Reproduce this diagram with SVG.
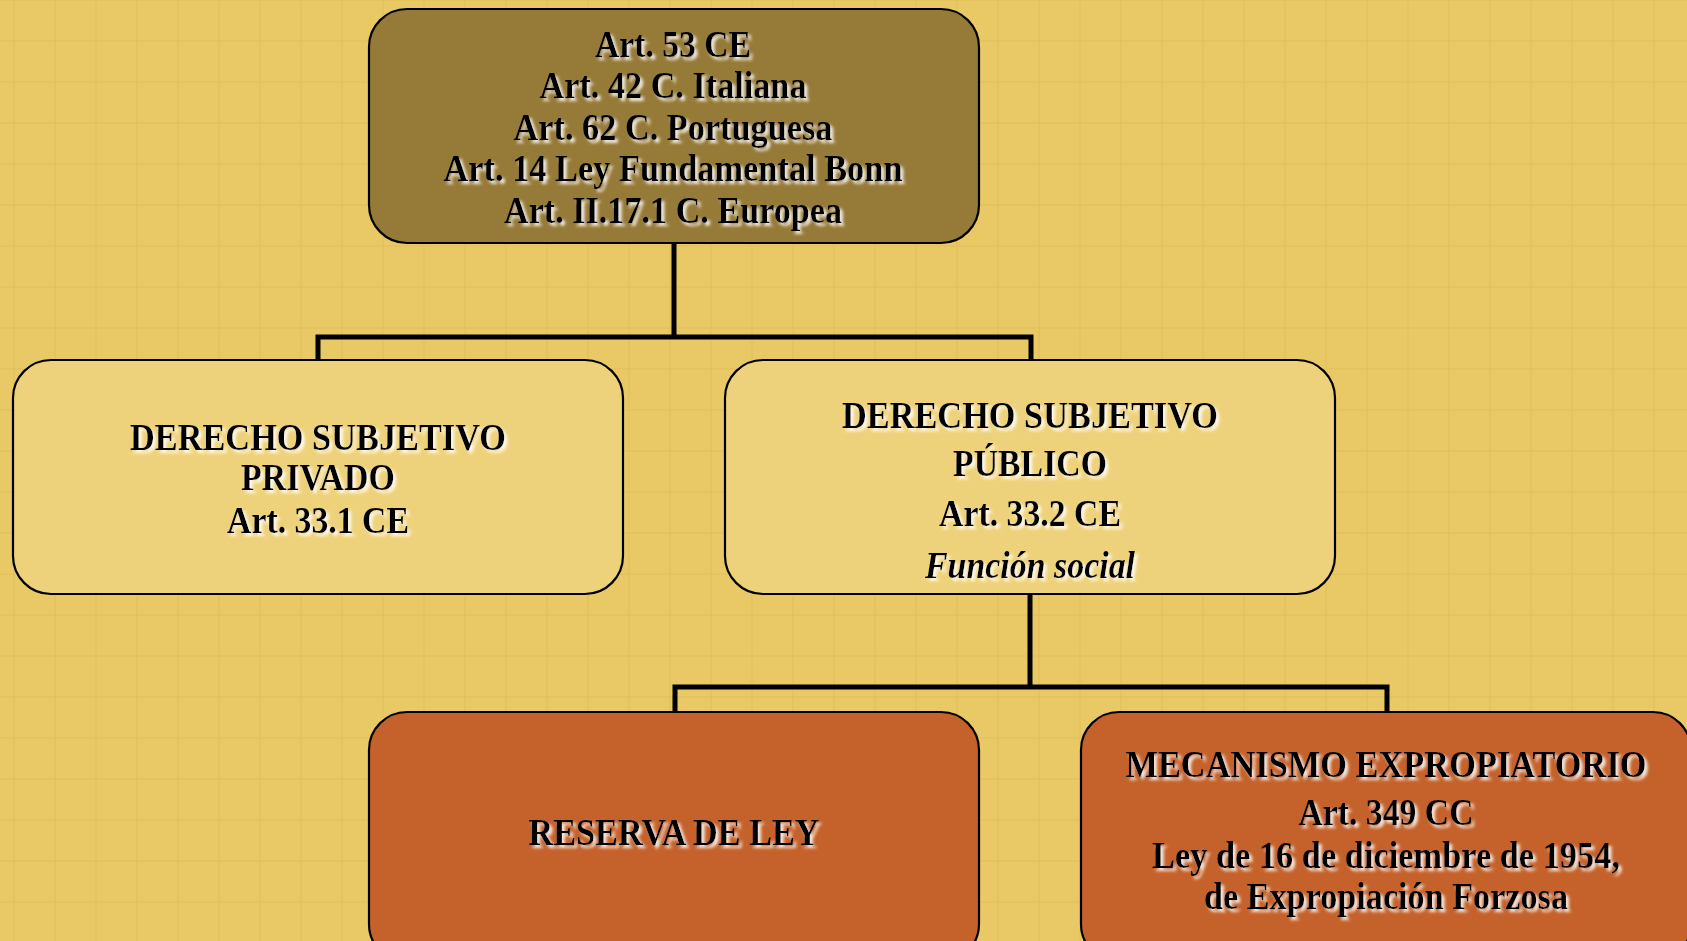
<svg xmlns="http://www.w3.org/2000/svg" width="1687" height="941" viewBox="0 0 1687 941">
<style>
.box{stroke:#000;stroke-width:2.2}
.top{fill:#967A38}
.mid{fill:#EED27B}
.bot{fill:#C5622B}
.t{font-family:"Liberation Serif","Times New Roman",serif;font-weight:bold;font-size:37px;fill:#000;text-anchor:middle;filter:url(#sh)}
.it{font-style:italic}
.conn{stroke:#000;stroke-width:5;fill:none}
</style>
<defs>
<pattern id="grid" x="13" y="-1" width="41" height="41" patternUnits="userSpaceOnUse">
<rect x="0" y="0" width="2" height="41" fill="#E1BF5C" opacity="0.5"/>
<rect x="0" y="0" width="41" height="2" fill="#E1BF5C" opacity="0.5"/>
</pattern>
<filter id="sh" x="-5%" y="-20%" width="110%" height="150%">
<feGaussianBlur in="SourceAlpha" stdDeviation="1.4" result="b"/>
<feOffset in="b" dx="2.5" dy="2.5" result="o"/>
<feFlood flood-color="#FFFFFF" flood-opacity="0.85"/>
<feComposite in2="o" operator="in" result="s"/>
<feMerge><feMergeNode in="s"/><feMergeNode in="SourceGraphic"/></feMerge>
</filter>
</defs>
<rect width="1687" height="941" fill="#E9C965"/>
<rect width="1687" height="941" fill="url(#grid)"/>
<g id="connectors">
<path class="conn" d="M674 243 V337 M318 360 V337 H1031 V360"/>
<path class="conn" d="M1030 594 V687 M675 712 V687 H1387 V712"/>
</g>
<g id="node-top">
<rect class="box top" x="369" y="9" width="610" height="234" rx="38"/>
<text class="t" x="673" y="57" textLength="156" lengthAdjust="spacingAndGlyphs">Art. 53 CE</text>
<text class="t" x="673" y="98" textLength="267" lengthAdjust="spacingAndGlyphs">Art. 42 C. Italiana</text>
<text class="t" x="673" y="140" textLength="319" lengthAdjust="spacingAndGlyphs">Art. 62 C. Portuguesa</text>
<text class="t" x="673" y="181" textLength="459" lengthAdjust="spacingAndGlyphs">Art. 14 Ley Fundamental Bonn</text>
<text class="t" x="673" y="223" textLength="338" lengthAdjust="spacingAndGlyphs">Art. II.17.1 C. Europea</text>
</g>
<g id="node-privado">
<rect class="box mid" x="13" y="360" width="610" height="234" rx="38"/>
<text class="t" x="318" y="450" textLength="376" lengthAdjust="spacingAndGlyphs">DERECHO SUBJETIVO</text>
<text class="t" x="318" y="490" textLength="154" lengthAdjust="spacingAndGlyphs">PRIVADO</text>
<text class="t" x="318" y="533" textLength="182" lengthAdjust="spacingAndGlyphs">Art. 33.1 CE</text>
</g>
<g id="node-publico">
<rect class="box mid" x="725" y="360" width="610" height="234" rx="38"/>
<text class="t" x="1030" y="428" textLength="376" lengthAdjust="spacingAndGlyphs">DERECHO SUBJETIVO</text>
<text class="t" x="1030" y="476" textLength="154" lengthAdjust="spacingAndGlyphs">PÚBLICO</text>
<text class="t" x="1030" y="526" textLength="182" lengthAdjust="spacingAndGlyphs">Art. 33.2 CE</text>
<text class="t it" x="1030" y="578" textLength="210" lengthAdjust="spacingAndGlyphs">Función social</text>
</g>
<g id="node-reserva">
<rect class="box bot" x="369" y="712" width="610" height="250" rx="38"/>
<text class="t" x="674" y="845" textLength="291" lengthAdjust="spacingAndGlyphs">RESERVA DE LEY</text>
</g>
<g id="node-mecanismo">
<rect class="box bot" x="1081" y="712" width="610" height="250" rx="38"/>
<text class="t" x="1386" y="777" textLength="521" lengthAdjust="spacingAndGlyphs">MECANISMO EXPROPIATORIO</text>
<text class="t" x="1386" y="825" textLength="175" lengthAdjust="spacingAndGlyphs">Art. 349 CC</text>
<text class="t" x="1386" y="868" textLength="468" lengthAdjust="spacingAndGlyphs">Ley de 16 de diciembre de 1954,</text>
<text class="t" x="1386" y="909" textLength="364" lengthAdjust="spacingAndGlyphs">de Expropiación Forzosa</text>
</g>
</svg>
